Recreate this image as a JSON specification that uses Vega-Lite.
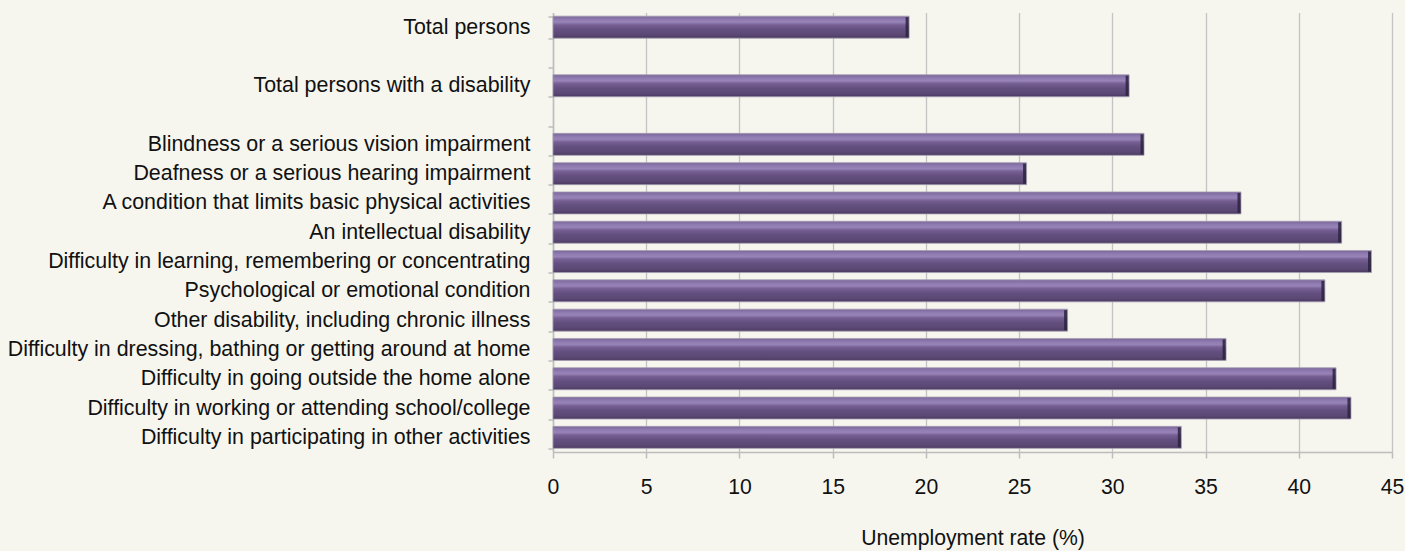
{
  "$schema": "https://vega.github.io/schema/vega-lite/v6.json",
  "autosize": "none",
  "width": 839,
  "height": 439.5,
  "padding": {"left": 553, "top": 12.5, "right": 13, "bottom": 99},
  "background": "#f6f6ef",
  "config": {
    "view": {"stroke": null},
    "font": "Liberation Sans",
    "axis": {"labelFont": "Liberation Sans", "titleFont": "Liberation Sans"}
  },
  "data": {
    "values": [
      {"category": "Total persons", "rate": 19.1},
      {"category": "Total persons with a disability", "rate": 30.9},
      {"category": "Blindness or a serious vision impairment", "rate": 31.7},
      {"category": "Deafness or a serious hearing impairment", "rate": 25.4},
      {"category": "A condition that limits basic physical activities", "rate": 36.9},
      {"category": "An intellectual disability", "rate": 42.3},
      {"category": "Difficulty in learning, remembering or concentrating", "rate": 43.9},
      {"category": "Psychological or emotional condition", "rate": 41.4},
      {"category": "Other disability, including chronic illness", "rate": 27.6},
      {"category": "Difficulty in dressing, bathing or getting around at home", "rate": 36.1},
      {"category": "Difficulty in going outside the home alone", "rate": 42.0},
      {"category": "Difficulty in working or attending school/college", "rate": 42.8},
      {"category": "Difficulty in participating in other activities", "rate": 33.7}
    ]
  },
  "encoding": {
    "y": {
      "field": "category",
      "type": "nominal",
      "scale": {
        "domain": [
          "Total persons",
          " ",
          "Total persons with a disability",
          "  ",
          "Blindness or a serious vision impairment",
          "Deafness or a serious hearing impairment",
          "A condition that limits basic physical activities",
          "An intellectual disability",
          "Difficulty in learning, remembering or concentrating",
          "Psychological or emotional condition",
          "Other disability, including chronic illness",
          "Difficulty in dressing, bathing or getting around at home",
          "Difficulty in going outside the home alone",
          "Difficulty in working or attending school/college",
          "Difficulty in participating in other activities"
        ],
        "paddingInner": 0.25,
        "paddingOuter": 0.125
      },
      "axis": {
        "title": null,
        "labelFontSize": 21.4,
        "labelColor": "#111111",
        "labelPadding": 18,
        "labelLimit": 700,
        "tickBand": "extent",
        "tickSize": 5,
        "tickColor": "#bdbdbd",
        "tickWidth": 1.5,
        "domainColor": "#bdbdbd",
        "domainWidth": 1.5,
        "grid": false
      }
    }
  },
  "layer": [
    {
      "mark": {
        "type": "bar",
        "stroke": "#a49db0",
        "strokeWidth": 0.8,
        "color": {
          "gradient": "linear",
          "x1": 0, "y1": 0, "x2": 0, "y2": 1,
          "stops": [
            {"offset": 0, "color": "#7a669a"},
            {"offset": 0.15, "color": "#8f7bb0"},
            {"offset": 0.27, "color": "#9884b8"},
            {"offset": 0.4, "color": "#765f93"},
            {"offset": 0.6, "color": "#645080"},
            {"offset": 0.85, "color": "#5b4874"},
            {"offset": 1, "color": "#4a3a60"}
          ]
        }
      },
      "encoding": {
        "x": {
          "field": "rate",
          "type": "quantitative",
          "scale": {"domain": [0, 45], "nice": false, "zero": true},
          "axis": {
            "title": "Unemployment rate (%)",
            "titleFontSize": 21.2,
            "titleFontWeight": "normal",
            "titleColor": "#111111",
            "titlePadding": 30,
            "titleAnchor": "middle",
            "values": [0, 5, 10, 15, 20, 25, 30, 35, 40, 45],
            "labelFontSize": 21.2,
            "labelColor": "#111111",
            "labelPadding": 18,
            "labelFlush": false,
            "labelOverlap": false,
            "tickSize": 6,
            "tickColor": "#bdbdbd",
            "tickWidth": 1.5,
            "domainColor": "#bdbdbd",
            "domainWidth": 1.5,
            "grid": true,
            "gridColor": "#c4c4c4",
            "gridWidth": 1.3
          }
        }
      }
    },
    {
      "mark": {"type": "tick", "color": "#2c2340", "thickness": 3, "xOffset": -2, "opacity": 0.85},
      "encoding": {
        "x": {"field": "rate", "type": "quantitative"},
        "size": {"value": 20}
      }
    }
  ]
}
